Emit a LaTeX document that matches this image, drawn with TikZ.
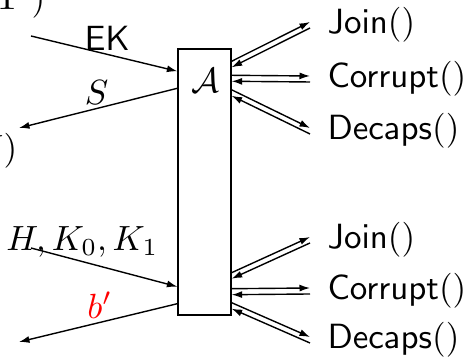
\documentclass[tikz,border=0pt]{standalone}
\usepackage{xcolor}
\usepackage{amsmath, amssymb}
\usepackage{tikz}
\usetikzlibrary{arrows.meta, calc}

\tikzset{
  msg/.style={-{Latex[length=3pt,width=2pt]}},
  oracle/.style={anchor=west, inner xsep=4.8pt},
}

\begin{document}
\begin{tikzpicture}[x=0.2857pt, y=-0.2857pt]
\useasboundingbox (0,0) rectangle (470,361);
\clip (0,0) rectangle (470,361);

% Adversary
\node[draw, minimum width=15.1pt, minimum height=76pt] (adv) at (204.5,182) {};
\node (advname) at (205,81) {$\mathcal{A}$};

% Cut-off labels on the left
\node[anchor=base east, inner sep=0pt] (prevtop) at (46,10) {$\mathrm{T}\hspace{3.4pt})$};
\node[anchor=base east, inner sep=0pt] (prevmid) at (18,160) {$V)$};

% First phase
\coordinate (ekin) at (31,36);
\coordinate (sout) at (19,128);
\draw[msg] (ekin) -- ($(adv.north west)+(0,23)$) node[pos=.52, above, inner sep=1pt] {$\mathsf{EK}$};
\draw[msg] ($(adv.north west)+(0,40)$) -- (sout) node[pos=.51, above, inner sep=1pt] {$S$};

% Second phase
\coordinate (hin) at (31,248);
\coordinate (bout) at (19,342);
\draw[msg] (hin) -- ($(adv.south west)+(0,-29)$) node[pos=.35, above, inner sep=1pt] {$H, K_0, K_1$};
\draw[msg] ($(adv.south west)+(0,-12)$) -- (bout) node[pos=.49, above, inner sep=1pt] {\textcolor{red}{$b'$}};

% Oracles
\node[oracle] (joinA) at (310,25) {$\mathsf{Join}()$};
\node[oracle] (corruptA) at (310,79) {$\mathsf{Corrupt}()$};
\node[oracle] (decapsA) at (310,131) {$\mathsf{Decaps}()$};
\node[oracle] (joinB) at (310,240) {$\mathsf{Join}()$};
\node[oracle] (corruptB) at (310,291) {$\mathsf{Corrupt}()$};
\node[oracle] (decapsB) at (310,340) {$\mathsf{Decaps}()$};

\foreach \n/\d in {joinA/16, corruptA/30, decapsA/44.5} {
  \draw[msg] ($(adv.north east)+(0,\d-3)$) -- ($(\n.west)+(0,-3)$);
  \draw[msg] ($(\n.west)+(0,3)$) -- ($(adv.north east)+(0,\d+3)$);
}
\foreach \n/\d in {joinB/40, corruptB/24, decapsB/10} {
  \draw[msg] ($(adv.south east)+(0,-\d-3)$) -- ($(\n.west)+(0,-3)$);
  \draw[msg] ($(\n.west)+(0,3)$) -- ($(adv.south east)+(0,-\d+3)$);
}

\end{tikzpicture}
\end{document}
